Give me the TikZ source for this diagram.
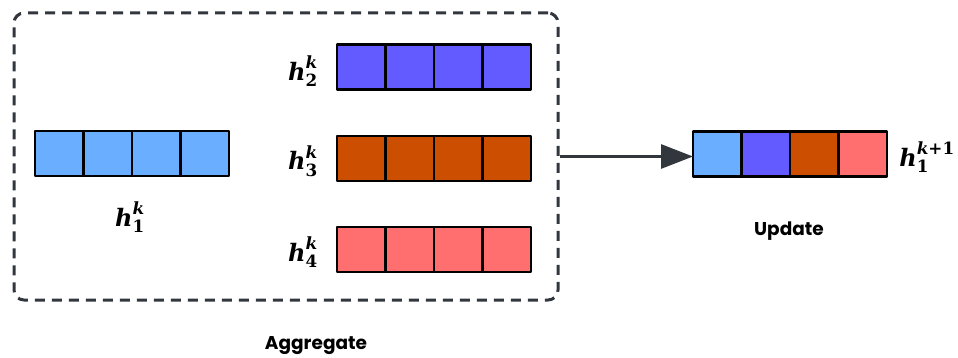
\documentclass[tikz,border=0pt]{standalone}
\usepackage{amsmath}
\usepackage{fontspec}
\newfontfamily\popfont{Poppins}[BoldFont={Poppins Bold}]
\newfontfamily\mfont{DejaVu Serif}
\newcommand{\bi}[1]{\text{\mfont\bfseries\itshape #1}}
\newcommand{\bu}[1]{\text{\mfont\bfseries #1}}
\usetikzlibrary{arrows.meta}
\definecolor{cblue}{HTML}{6AAFFF}
\definecolor{cpurple}{HTML}{635BFF}
\definecolor{corange}{HTML}{CC4E00}
\definecolor{cpink}{HTML}{FF6F6F}
\definecolor{cdark}{HTML}{32373E}
\tikzset{
  cell/.style={draw=black, line width=2.8pt, minimum width=48.5pt, minimum height=45pt, inner sep=0pt, outer sep=0pt, line join=round},
  mlabel/.style={font=\fontsize{24}{28}\selectfont, inner sep=0pt},
  caption/.style={font=\popfont\bfseries\fontsize{18.5}{21}\selectfont, inner sep=0pt},
  aggbox/.style={draw=cdark, line width=3pt, dash pattern=on 10pt off 7pt, rounded corners=10pt, minimum width=544pt, minimum height=287pt, inner sep=0pt},
  flow/.style={draw=cdark, line width=3pt, -{Triangle[length=32pt,width=24pt]}}
}
\begin{document}
\begin{tikzpicture}[x=1pt,y=-1pt]
\useasboundingbox (0,0) rectangle (958,358);
\node[aggbox] (agg) at (286,156.5) {};
\foreach \i in {1,...,4}{
  \node[cell, fill=cblue] (a\i) at ({35+48.5*(\i-0.5)},153.5) {};
  \node[cell, fill=cpurple] (b\i) at ({337+48.5*(\i-0.5)},67) {};
  \node[cell, fill=corange] (c\i) at ({337+48.5*(\i-0.5)},158.5) {};
  \node[cell, fill=cpink] (d\i) at ({337+48.5*(\i-0.5)},249.5) {};
}
\node[cell, fill=cblue] (u1) at ({693+48.5*0.5},154) {};
\node[cell, fill=cpurple] (u2) at ({693+48.5*1.5},154) {};
\node[cell, fill=corange] (u3) at ({693+48.5*2.5},154) {};
\node[cell, fill=cpink] (u4) at ({693+48.5*3.5},154) {};
\node[mlabel] (l1) at (130,217) {$\bi{h}_{\bu{1}}^{\bi{k}}$};
\node[mlabel] (l2) at (303,71) {$\bi{h}_{\bu{2}}^{\bi{k}}$};
\node[mlabel] (l3) at (303,161) {$\bi{h}_{\bu{3}}^{\bi{k}}$};
\node[mlabel] (l4) at (303,252) {$\bi{h}_{\bu{4}}^{\bi{k}}$};
\node[mlabel] (lu) at (927,157) {$\bi{h}_{\bu{1}}^{\bi{k}\bu{+1}}$};
\node[caption] (upd) at (789,231) {Update};
\node[caption] (aggl) at (316,346) {Aggregate};
\draw[flow] (agg.east) -- (agg.east -| u1.west);
\end{tikzpicture}
\end{document}
